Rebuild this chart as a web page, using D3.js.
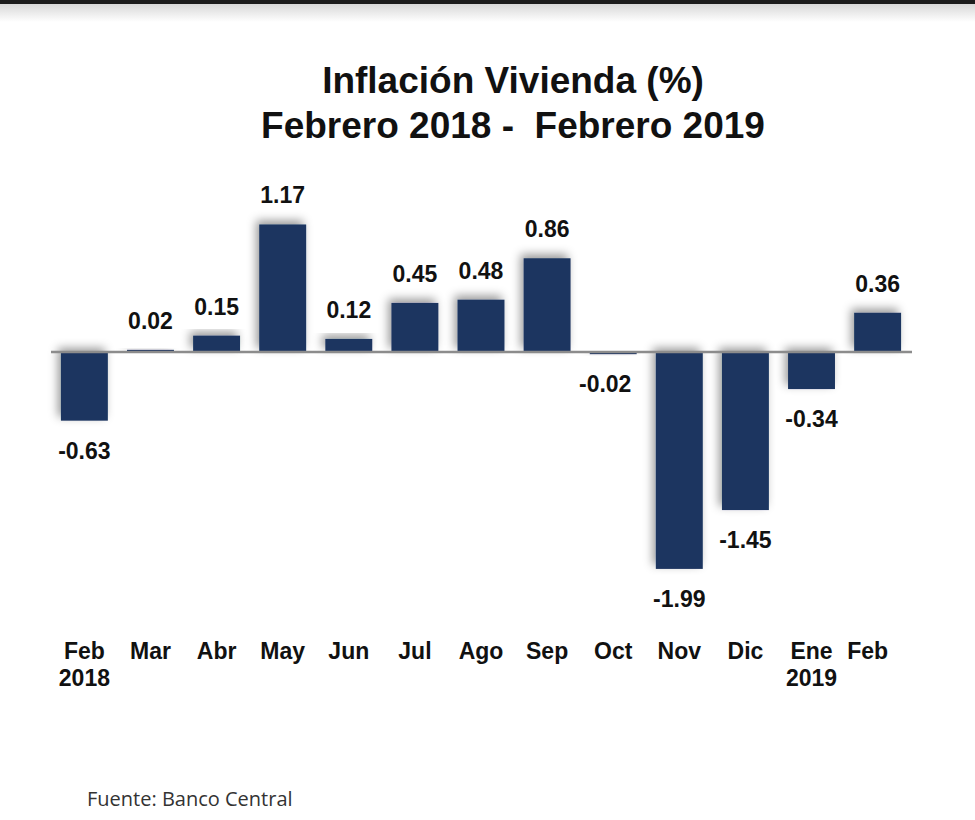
<!DOCTYPE html>
<html>
<head>
<meta charset="utf-8">
<script src="https://cdn.jsdelivr.net/npm/d3@7"></script>
<style>
  body { margin: 0; background: #fff; }
  text { white-space: pre; }
</style>
</head>
<body>
<div id="chart"></div>
<script>
// data
const months = ['Feb', 'Mar', 'Abr', 'May', 'Jun', 'Jul', 'Ago', 'Sep', 'Oct', 'Nov', 'Dic', 'Ene', 'Feb '];
const years = ['2018', '', '', '', '', '', '', '', '', '', '', '2019', ''];
const values = [-0.63, 0.02, 0.15, 1.17, 0.12, 0.45, 0.48, 0.86, -0.02, -1.99, -1.45, -0.34, 0.36];
const titleLines = ['Inflación Vivienda (%)', 'Febrero 2018 -  Febrero 2019'];
const source = 'Fuente: Banco Central';

const width = 975, height = 820;
const svg = d3.select('#chart')
    .append('svg')
    .attr('width', width)
    .attr('height', height);

// shadow for bars and top band
const defs = svg.append('defs');
const shadow = defs.append('filter')
    .attr('id', 'shadow')
    .attr('x', '-40%').attr('y', '-40%')
    .attr('width', '180%').attr('height', '180%');
shadow.append('feDropShadow')
    .attr('dx', -3).attr('dy', -4)
    .attr('stdDeviation', 5)
    .attr('flood-color', '#000')
    .attr('flood-opacity', 0.4);

const grad = defs.append('linearGradient')
    .attr('id', 'topfade')
    .attr('x1', 0).attr('y1', 0).attr('x2', 0).attr('y2', 1);
grad.append('stop').attr('offset', '0%').attr('stop-color', '#d8d8d8');
grad.append('stop').attr('offset', '100%').attr('stop-color', '#ffffff');

svg.append('rect')
    .attr('x', 0).attr('y', 4).attr('width', width).attr('height', 18)
    .attr('fill', 'url(#topfade)');
svg.append('rect')
    .attr('x', 0).attr('y', 0).attr('width', width).attr('height', 4)
    .attr('fill', '#1c1c1c');

// title
svg.append('g')
    .selectAll('text')
    .data(titleLines)
    .enter()
    .append('text')
    .attr('x', 513)
    .attr('y', (d, i) => 93 + i * 45)
    .attr('text-anchor', 'middle')
    .attr('font-family', 'Liberation Sans, Arial, sans-serif')
    .attr('font-weight', 'bold')
    .attr('font-size', '37px')
    .attr('fill', '#111')
    .text(d => d);

// scales
const idx = months.map((d, i) => i);
const x = d3.scaleBand()
    .domain(idx)
    .range([51, 911])
    .paddingInner(0.29)
    .paddingOuter(0.15);
const y = d3.scaleLinear()
    .domain([-2, 1.2])
    .range([570, 221.2]);

const graph = svg.append('g');

// bars
graph.selectAll('rect.bar')
    .data(values)
    .enter()
    .append('rect')
    .attr('class', 'bar')
    .attr('x', (d, i) => x(i))
    .attr('width', x.bandwidth())
    .attr('y', d => y(Math.max(0, d)))
    .attr('height', d => Math.abs(y(d) - y(0)))
    .attr('fill', '#1c3660')
    .attr('filter', 'url(#shadow)');

// zero line
graph.append('line')
    .attr('x1', 51).attr('x2', 912)
    .attr('y1', y(0)).attr('y2', y(0))
    .attr('stroke', '#8c8c8c')
    .attr('stroke-width', 2.5);

// value labels
graph.selectAll('text.val')
    .data(values)
    .enter()
    .append('text')
    .attr('class', 'val')
    .attr('x', (d, i) => x(i) + x.bandwidth() / 2 - (i === 8 ? 8 : 0))
    .attr('y', d => d >= 0 ? y(d) - 21 : y(d) + 38)
    .attr('text-anchor', 'middle')
    .attr('font-family', 'Liberation Sans, Arial, sans-serif')
    .attr('font-weight', 'bold')
    .attr('font-size', '23px')
    .attr('fill', '#111')
    .text(d => d.toFixed(2));

// category labels
const cat = graph.selectAll('g.cat')
    .data(months)
    .enter()
    .append('g')
    .attr('class', 'cat')
    .attr('transform', (d, i) => `translate(${x(i) + x.bandwidth() / 2 - (i === 12 ? 10 : 0)}, 659)`);
cat.append('text')
    .attr('text-anchor', 'middle')
    .attr('font-family', 'Liberation Sans, Arial, sans-serif')
    .attr('font-weight', 'bold')
    .attr('font-size', '23px')
    .attr('fill', '#111')
    .text(d => d.trim());
cat.append('text')
    .attr('y', 27)
    .attr('text-anchor', 'middle')
    .attr('font-family', 'Liberation Sans, Arial, sans-serif')
    .attr('font-weight', 'bold')
    .attr('font-size', '23px')
    .attr('fill', '#111')
    .text((d, i) => years[i]);

// source note
svg.append('text')
    .attr('x', 87)
    .attr('y', 806)
    .attr('font-family', 'Open Sans, Noto Sans, sans-serif')
    .attr('font-size', '20px')
    .attr('fill', '#333')
    .text(source);
</script>
</body>
</html>
